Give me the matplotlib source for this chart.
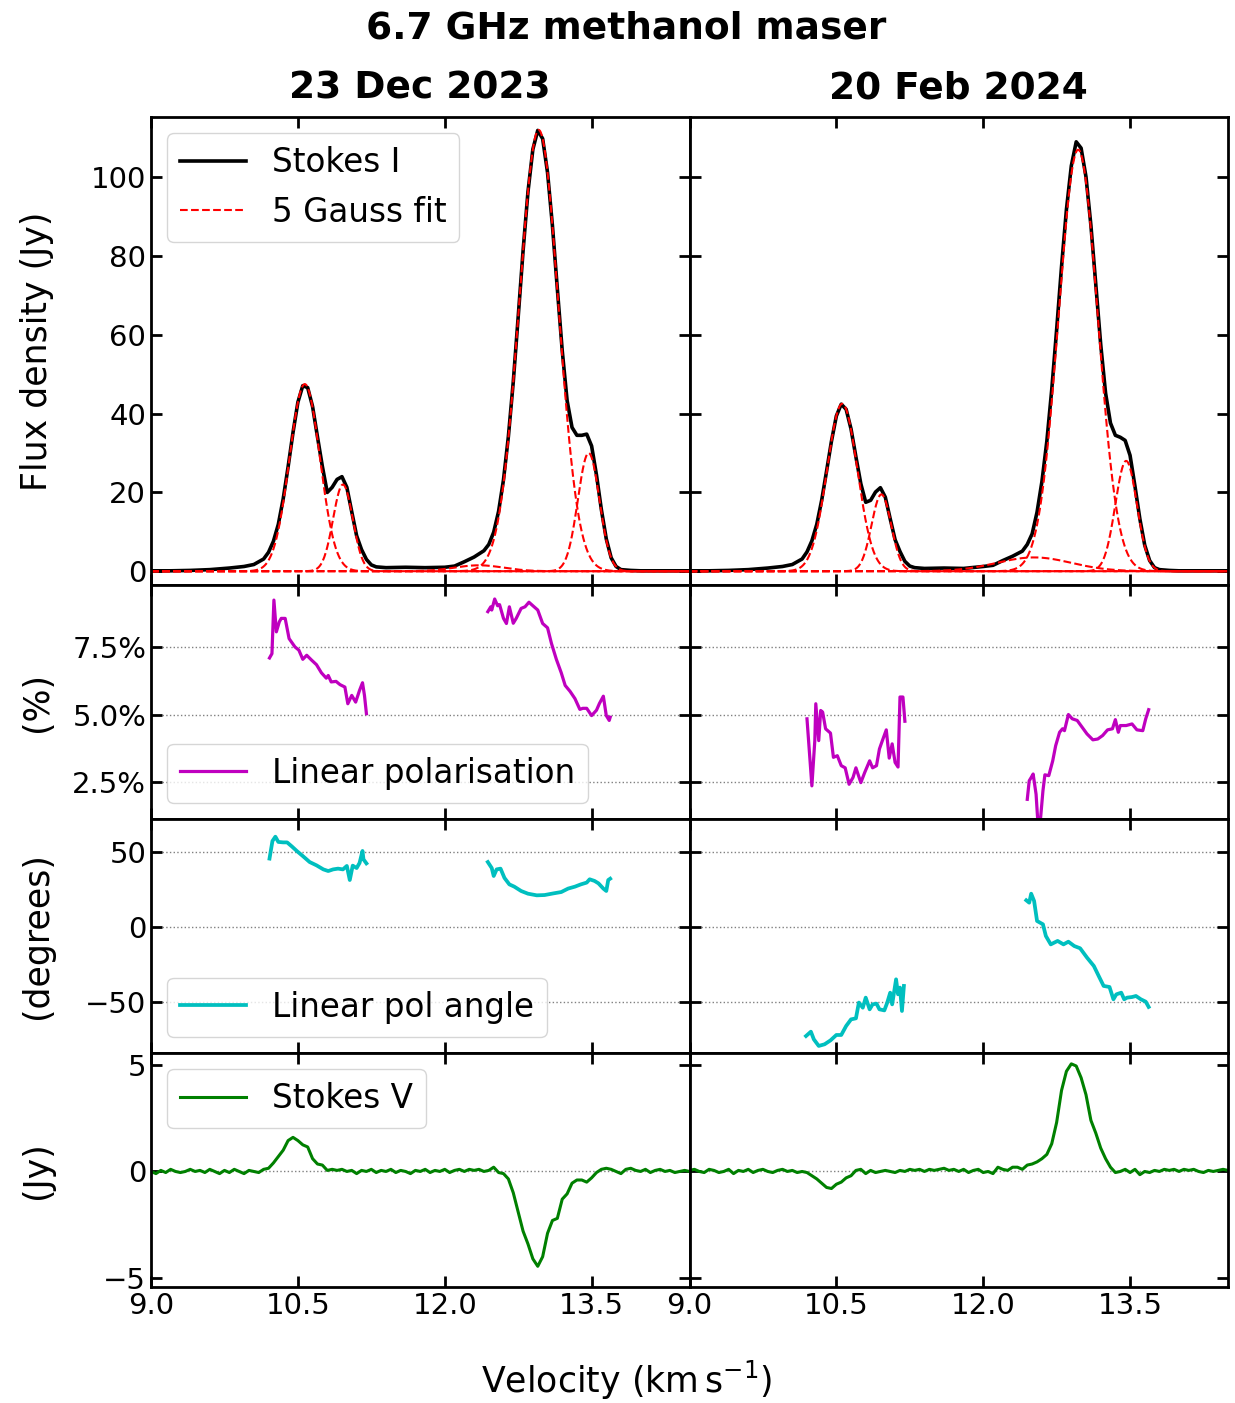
import numpy as np
import matplotlib
matplotlib.use("Agg")
from matplotlib import pyplot as plt
from matplotlib.ticker import FuncFormatter

dates = ['23 Dec 2023', '20 Feb 2024']

vel_i = [9.0, 9.2, 9.4, 9.6, 9.8, 9.95, 10.05, 10.15, 10.2, 10.25,
         10.3, 10.35, 10.4, 10.45, 10.5, 10.55, 10.6, 10.65, 10.7, 10.75,
         10.8, 10.85, 10.9, 10.95, 11.0, 11.05, 11.1, 11.15, 11.2, 11.25,
         11.3, 11.4, 11.6, 11.8, 12.0, 12.1, 12.2, 12.3, 12.4, 12.45,
         12.5, 12.55, 12.6, 12.65, 12.7, 12.75, 12.8, 12.85, 12.9, 12.95,
         13.0, 13.05, 13.1, 13.15, 13.2, 13.25, 13.3, 13.35, 13.4, 13.45,
         13.5, 13.55, 13.6, 13.65, 13.7, 13.75, 13.8, 13.9, 14.0, 14.2, 14.5]
stokes_i_dec = [0.1, 0.1, 0.2, 0.4, 0.8, 1.2, 1.7, 3.1, 4.8, 7.6,
                11.9, 18.4, 26.5, 35.2, 42.9, 47.1, 46.6, 41.8, 34.1, 26.6,
                20.0, 21.3, 23.3, 24.0, 21.3, 15.1, 9.0, 5.5, 3.0, 1.6,
                1.1, 0.9, 1.0, 0.9, 1.0, 1.3, 2.4, 3.6, 5.2, 6.8,
                9.9, 15.2, 23.2, 34.2, 48.1, 64.5, 81.3, 96.3, 107.1, 111.9,
                109.8, 101.2, 87.7, 71.7, 56.0, 43.3, 36.5, 34.5, 34.5, 34.8,
                31.8, 24.4, 15.6, 8.2, 3.4, 1.2, 0.4, 0.2, 0.1, 0.1, 0.1]
stokes_i_feb = [0.1, 0.1, 0.2, 0.4, 0.8, 1.2, 1.7, 3.1, 4.9, 7.7,
                11.9, 18.0, 25.4, 33.0, 39.4, 42.4, 41.1, 36.1, 29.0, 22.2,
                17.5, 18.0, 20.1, 21.2, 18.8, 13.3, 8.0, 5.0, 2.5, 1.3,
                0.9, 0.7, 0.8, 0.7, 1.2, 1.5, 2.7, 3.8, 5.1, 6.8,
                9.5, 15.0, 22.8, 33.0, 46.1, 61.3, 77.3, 91.8, 102.9, 109.0,
                107.4, 100.1, 87.8, 72.8, 57.6, 45.2, 37.6, 34.5, 34.0, 33.2,
                29.4, 21.6, 13.3, 6.6, 2.7, 0.9, 0.4, 0.2, 0.1, 0.1, 0.1]

# 5 gaussian components (amplitude Jy, centre km/s, sigma km/s)
fit_dec_amp = [47.5, 22.0, 112.0, 30.0, 1.5]
fit_dec_cen = [10.57, 10.96, 12.96, 13.47, 12.35]
fit_dec_wid = [0.155, 0.10, 0.20, 0.11, 0.25]
fit_feb_amp = [42.5, 19.5, 107.0, 28.0, 3.5]
fit_feb_cen = [10.56, 10.96, 12.97, 13.46, 12.52]
fit_feb_wid = [0.155, 0.10, 0.20, 0.11, 0.38]

# linear polarisation (%) - two groups of channels per epoch
lp_dec_v1 = [10.21, 10.235, 10.255, 10.28, 10.31, 10.33, 10.37, 10.41, 10.47, 10.51,
             10.55, 10.59, 10.64, 10.69, 10.74, 10.79, 10.81, 10.84, 10.89, 10.93,
             10.98, 11.01, 11.05, 11.09, 11.13, 11.16, 11.18, 11.20]
lp_dec_p1 = [7.10, 7.26, 9.25, 8.07, 8.44, 8.57, 8.57, 7.82, 7.51, 7.39,
             7.05, 7.20, 7.02, 6.85, 6.55, 6.35, 6.45, 6.21, 6.23, 6.11,
             6.02, 5.40, 5.71, 5.46, 5.90, 6.18, 5.71, 5.03]
lp_dec_v2 = [12.44, 12.47, 12.48, 12.51, 12.54, 12.56, 12.60, 12.63, 12.66, 12.70,
             12.73, 12.78, 12.82, 12.86, 12.90, 12.95, 13.00, 13.05, 13.09, 13.14,
             13.19, 13.23, 13.28, 13.33, 13.38, 13.41, 13.45, 13.50, 13.55, 13.58,
             13.62, 13.65, 13.68, 13.69]
lp_dec_p2 = [8.82, 9.00, 8.88, 9.29, 9.04, 9.08, 8.57, 8.38, 9.00, 8.39,
             8.57, 8.94, 9.00, 9.17, 9.04, 8.88, 8.38, 8.22, 7.64, 7.05,
             6.55, 6.08, 5.86, 5.59, 5.19, 5.23, 5.23, 4.96, 5.16, 5.41,
             5.68, 4.96, 4.78, 4.90]
lp_feb_v1 = [10.20, 10.25, 10.28, 10.29, 10.32, 10.34, 10.36, 10.39, 10.44, 10.47,
             10.51, 10.55, 10.59, 10.63, 10.67, 10.70, 10.75, 10.79, 10.84, 10.87,
             10.91, 10.94, 10.97, 11.01, 11.04, 11.07, 11.10, 11.13, 11.15, 11.18, 11.20]
lp_feb_p1 = [4.84, 2.35, 4.03, 5.40, 4.03, 5.15, 5.09, 4.47, 4.31, 3.41,
             3.47, 3.10, 3.02, 2.41, 2.66, 3.02, 2.47, 2.85, 3.28, 3.02,
             3.10, 3.72, 4.03, 4.43, 3.38, 3.91, 3.22, 3.05, 5.65, 5.65, 4.75]
lp_feb_v2 = [12.45, 12.47, 12.49, 12.51, 12.54, 12.56, 12.58, 12.61, 12.63, 12.67,
             12.71, 12.74, 12.78, 12.81, 12.83, 12.87, 12.91, 12.96, 13.01, 13.06,
             13.12, 13.17, 13.22, 13.27, 13.32, 13.35, 13.38, 13.40, 13.46, 13.52,
             13.57, 13.63, 13.66, 13.69]
lp_feb_p2 = [1.85, 2.54, 2.66, 2.79, 2.04, 0.9, 0.9, 2.16, 2.76, 2.73,
             3.28, 3.84, 4.34, 4.47, 4.40, 5.00, 4.84, 4.78, 4.53, 4.28,
             4.06, 4.09, 4.22, 4.43, 4.47, 4.81, 4.34, 4.59, 4.59, 4.65,
             4.43, 4.40, 4.84, 5.18]

# linear polarisation angle (degrees)
pa_dec_v1 = [10.21, 10.24, 10.27, 10.30, 10.35, 10.39, 10.44, 10.49, 10.55, 10.62,
             10.69, 10.76, 10.81, 10.86, 10.91, 10.96, 11.00, 11.03, 11.06, 11.10,
             11.13, 11.16, 11.17, 11.20]
pa_dec_a1 = [45.6, 57.3, 60.2, 56.7, 56.4, 56.4, 53.6, 50.6, 47.3, 43.3,
             41.1, 38.4, 37.3, 38.4, 38.9, 38.4, 40.7, 31.3, 40.9, 39.3,
             42.7, 50.7, 45.1, 42.4]
pa_dec_v2 = [12.44, 12.48, 12.50, 12.53, 12.57, 12.61, 12.66, 12.71, 12.78, 12.85,
             12.94, 13.02, 13.11, 13.19, 13.26, 13.33, 13.39, 13.45, 13.48, 13.53,
             13.57, 13.62, 13.65, 13.67, 13.69]
pa_dec_a2 = [43.3, 39.3, 34.0, 38.4, 38.9, 32.7, 28.4, 26.9, 24.0, 22.2,
             21.1, 21.3, 22.4, 23.3, 25.6, 26.9, 28.4, 29.6, 31.8, 30.7,
             29.1, 25.6, 24.0, 31.3, 32.2]
pa_feb_v1 = [10.19, 10.24, 10.27, 10.32, 10.38, 10.44, 10.50, 10.55, 10.60, 10.65,
             10.70, 10.73, 10.77, 10.80, 10.84, 10.87, 10.91, 10.94, 10.99, 11.02,
             11.05, 11.07, 11.11, 11.13, 11.15, 11.17, 11.19]
pa_feb_a1 = [-72.7, -69.8, -74.9, -79.3, -78.2, -75.6, -72.0, -72.0, -66.0, -61.6,
             -60.9, -50.4, -53.8, -47.1, -54.9, -51.6, -51.1, -54.9, -55.6, -50.4,
             -43.8, -51.6, -34.9, -44.9, -40.4, -56.0, -39.3]
pa_feb_v2 = [12.44, 12.47, 12.49, 12.52, 12.55, 12.61, 12.64, 12.69, 12.76, 12.82,
             12.87, 12.93, 12.99, 13.06, 13.13, 13.18, 13.23, 13.29, 13.33, 13.36,
             13.41, 13.44, 13.47, 13.52, 13.56, 13.61, 13.66, 13.69]
pa_feb_a2 = [17.8, 16.2, 22.2, 17.3, 4.0, 1.8, -6.0, -11.6, -9.3, -11.6,
             -9.8, -12.7, -14.2, -20.4, -26.0, -32.7, -39.3, -40.0, -48.2, -44.9,
             -43.8, -48.2, -47.1, -46.7, -46.0, -48.2, -49.8, -53.3]

# Stokes V (Jy), channels every 0.05 km/s from 9.0 to 14.5
stokes_v_dec = [0.0, -0.1, 0.05, -0.05, 0.1, 0.0, -0.05, 0.0, 0.1, 0.0,
                0.05, -0.05, 0.1, 0.0, -0.1, 0.05, -0.05, 0.1, 0.0, -0.1,
                0.05, 0.0, -0.05, 0.1, 0.15, 0.4, 0.7, 1.0, 1.45, 1.6,
                1.45, 1.25, 1.15, 0.6, 0.35, 0.3, 0.05, 0.1, 0.05, 0.1,
                0.0, 0.05, -0.1, 0.05, 0.0, 0.1, -0.05, 0.05, 0.0, 0.1,
                -0.05, 0.05, 0.0, -0.1, 0.05, 0.0, 0.1, -0.05, 0.05, 0.0,
                0.1, -0.05, 0.05, 0.1, 0.0, 0.1, 0.05, 0.1, 0.0, 0.05,
                0.2, -0.05, -0.1, -0.35, -1.0, -1.9, -2.8, -3.4, -4.1, -4.45,
                -4.0, -2.9, -2.3, -2.2, -1.3, -1.05, -0.55, -0.4, -0.4, -0.5,
                -0.3, -0.05, 0.1, 0.15, 0.1, 0.0, -0.1, 0.1, 0.15, 0.05,
                0.0, 0.1, -0.05, 0.05, 0.1, 0.0, 0.05, -0.05, 0.0, 0.05,
                0.0]
stokes_v_feb = [0.05, 0.1, 0.0, -0.05, 0.1, 0.05, -0.05, 0.0, 0.1, -0.1,
                0.05, 0.0, 0.1, -0.05, 0.05, 0.1, 0.0, -0.05, 0.05, 0.1,
                0.0, 0.05, -0.05, 0.0, -0.05, -0.2, -0.35, -0.55, -0.75, -0.8,
                -0.6, -0.5, -0.3, -0.2, 0.05, 0.1, -0.1, 0.05, -0.05, 0.0,
                0.05, 0.0, -0.05, 0.05, 0.0, 0.1, 0.05, 0.1, 0.0, 0.1,
                0.05, 0.1, 0.15, 0.05, 0.1, 0.0, 0.1, -0.05, 0.05, 0.1,
                -0.05, 0.0, -0.1, 0.2, 0.1, 0.05, 0.2, 0.2, 0.1, 0.3,
                0.35, 0.45, 0.6, 0.8, 1.3, 2.3, 3.8, 4.7, 5.05, 4.95,
                4.4, 3.6, 2.4, 1.8, 1.1, 0.6, 0.2, -0.05, 0.0, 0.1,
                -0.05, 0.1, -0.15, 0.0, -0.05, 0.05, 0.0, 0.1, 0.05, 0.1,
                0.0, 0.1, 0.05, 0.1, 0.0, -0.05, 0.05, 0.0, 0.05, 0.1,
                0.05]

vel_v = np.round(9.0 + 0.05 * np.arange(len(stokes_v_dec)), 2)
vel_fit = np.linspace(9.0, 14.5, 1101)

plt.rcParams['font.family'] = 'DejaVu Sans'

fig, axes = plt.subplots(4, 2, figsize=(12.35, 14.03), dpi=100, sharex=True,
                         gridspec_kw={'height_ratios': [2, 1, 1, 1]})
fig.subplots_adjust(left=0.1223, right=0.9943, top=0.9166, bottom=0.0827,
                    wspace=0, hspace=0)

epochs = [
    (stokes_i_dec, fit_dec_amp, fit_dec_cen, fit_dec_wid,
     [(lp_dec_v1, lp_dec_p1), (lp_dec_v2, lp_dec_p2)],
     [(pa_dec_v1, pa_dec_a1), (pa_dec_v2, pa_dec_a2)], stokes_v_dec),
    (stokes_i_feb, fit_feb_amp, fit_feb_cen, fit_feb_wid,
     [(lp_feb_v1, lp_feb_p1), (lp_feb_v2, lp_feb_p2)],
     [(pa_feb_v1, pa_feb_a1), (pa_feb_v2, pa_feb_a2)], stokes_v_feb),
]

for col, (si, amp, cen, wid, lp, pa, sv) in enumerate(epochs):
    ax = axes[0, col]
    ax.plot(vel_i, si, color='black', lw=2.6, label='Stokes I')
    for k in range(len(amp)):
        g = amp[k] * np.exp(-(vel_fit - cen[k]) ** 2 / (2 * wid[k] ** 2))
        ax.plot(vel_fit, g, color='red', ls='--', lw=1.5,
                label='5 Gauss fit' if k == 0 else None)
    ax.set_title(dates[col], fontsize=27, fontweight='bold', pad=13)

    ax = axes[1, col]
    for j, (v, p) in enumerate(lp):
        ax.plot(v, p, color='m', lw=2.3, label='Linear polarisation' if j == 0 else None)

    ax = axes[2, col]
    for j, (v, a) in enumerate(pa):
        ax.plot(v, a, color='c', lw=2.7, label='Linear pol angle' if j == 0 else None)

    ax = axes[3, col]
    ax.plot(vel_v, sv, color='green', lw=2.2, label='Stokes V')

ylims = [(-3.5, 115.3), (1.12, 9.81), (-84, 72), (-5.42, 5.56)]
yticks = [[0, 20, 40, 60, 80, 100], [2.5, 5.0, 7.5], [-50, 0, 50], [-5, 0, 5]]
ylabels = ['Flux density (Jy)', '(%)', '(degrees)', '(Jy)']
for r in range(4):
    for c in range(2):
        ax = axes[r, c]
        ax.set_xlim(9.0, 14.5)
        ax.set_ylim(*ylims[r])
        ax.set_yticks(yticks[r])
        ax.set_xticks([9.0, 10.5, 12.0, 13.5])
        ax.xaxis.set_major_formatter(FuncFormatter(lambda x, p: '%.1f' % x))
        ax.tick_params(direction='in', top=True, right=True, length=8, width=2,
                       labelsize=21)
        for s in ax.spines.values():
            s.set_linewidth(2)
        if r in (1, 2):
            ax.grid(axis='y', ls=':', color='gray', lw=1)
        if r == 3:
            ax.axhline(0, ls=':', color='gray', lw=1, zorder=0)
        if c == 1:
            ax.tick_params(labelleft=False)
    axes[r, 0].set_ylabel(ylabels[r], fontsize=25)
    axes[r, 0].yaxis.set_label_coords(-0.18, 0.5)

axes[1, 0].yaxis.set_major_formatter(FuncFormatter(lambda y, p: '%.1f%%' % y))

axes[0, 0].legend(loc='upper left', fontsize=23.5)
axes[1, 0].legend(loc='lower left', fontsize=23.5)
axes[2, 0].legend(loc='lower left', fontsize=23.5)
axes[3, 0].legend(loc='upper left', fontsize=23.5)

fig.suptitle('6.7 GHz methanol maser', fontsize=27, fontweight='bold',
             x=0.507, y=0.98, va='center')
fig.text(0.507, 0.001, r'Velocity (km$\,$s$^{-1}$)', fontsize=25,
         ha='center', va='bottom')

fig.savefig('out.png', dpi=100)
